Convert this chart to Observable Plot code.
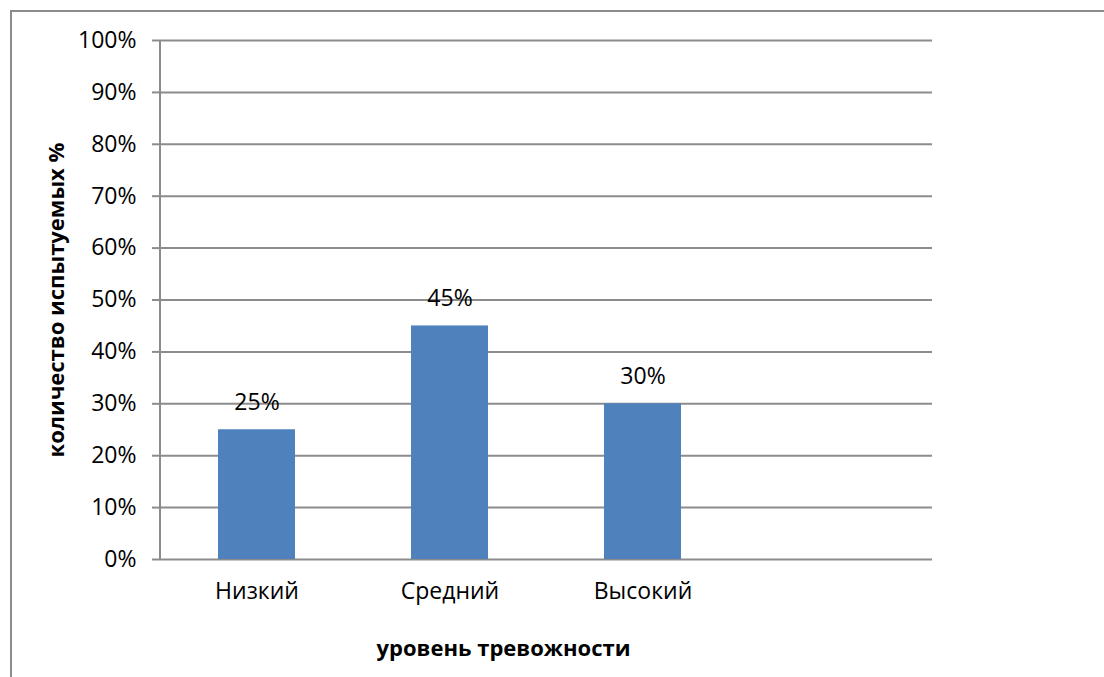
<!DOCTYPE html>
<html>
<head>
<meta charset="utf-8">
<script src="https://cdn.jsdelivr.net/npm/d3@7"></script>
<script src="https://cdn.jsdelivr.net/npm/@observablehq/plot@0.6"></script>
<style>
  html, body { margin: 0; padding: 0; background: #fff; }
  #wrap { position: relative; width: 1104px; height: 677px; overflow: hidden; }
  #border { position: absolute; left: 10px; top: 10px; width: 1200px; height: 800px;
            border-top: 2px solid #8c8c8c; border-left: 2px solid #8c8c8c; box-sizing: border-box; }
  #chart { position: absolute; left: 0; top: 0; }
</style>
</head>
<body>
<div id="wrap"><div id="border"></div><div id="chart"></div></div>
<script>
const categories = ["Низкий", "Средний", "Высокий", ""];
const values = [25, 45, 30];
const yTicks = [0, 10, 20, 30, 40, 50, 60, 70, 80, 90, 100];
const yTitle = "количество испытуемых %";
const xTitle = "уровень тревожности";

const data = values.map((v, i) => ({cat: categories[i], value: v}));

const font = "'Open Sans', sans-serif";
const gridColor = "#8c8c8c";

const yAxisLine = (index, scales, values, dims) => {
  const g = d3.create("svg:g");
  g.append("line")
    .attr("x1", dims.marginLeft).attr("x2", dims.marginLeft)
    .attr("y1", dims.marginTop).attr("y2", dims.height - dims.marginBottom)
    .attr("stroke", gridColor).attr("stroke-width", 2);
  return g.node();
};

const chart = Plot.plot({
  width: 1104,
  height: 677,
  marginLeft: 160,
  marginRight: 172,
  marginTop: 40,
  marginBottom: 118,
  style: {fontFamily: font, fontSize: "23px", color: "#000", background: "transparent"},
  x: {domain: categories, paddingInner: 0.6, paddingOuter: 0.3},
  y: {domain: [0, 100]},
  marks: [
    Plot.gridY(yTicks, {stroke: gridColor, strokeOpacity: 1, strokeWidth: 2}),
    Plot.axisY(yTicks, {tickSize: 8, tickPadding: 16, tickFormat: d => d + "%", stroke: gridColor, strokeOpacity: 1, strokeWidth: 2, label: null, fill: "#000", fontSize: 23}),
    Plot.axisX({tickSize: 0, tickPadding: 23, label: null, fill: "#000", fontSize: 23}),
    Plot.barY(data, {x: "cat", y: "value", fill: "#4F81BD"}),
    yAxisLine,
    Plot.text(data, {x: "cat", y: "value", text: d => d.value + "%", dy: -27, fontSize: 23, fill: "#000"}),
    Plot.text([yTitle], {frameAnchor: "left", textAnchor: "middle", lineAnchor: "middle", text: d => d, rotate: -90, dx: -104, fontSize: 22, fontWeight: "bold", fill: "#000"}),
    Plot.text([xTitle], {frameAnchor: "bottom", textAnchor: "middle", lineAnchor: "middle", text: d => d, dx: -43, dy: 89, fontSize: 22, fontWeight: "bold", fill: "#000"})
  ]
});
document.getElementById("chart").appendChild(chart);
</script>
</body>
</html>
